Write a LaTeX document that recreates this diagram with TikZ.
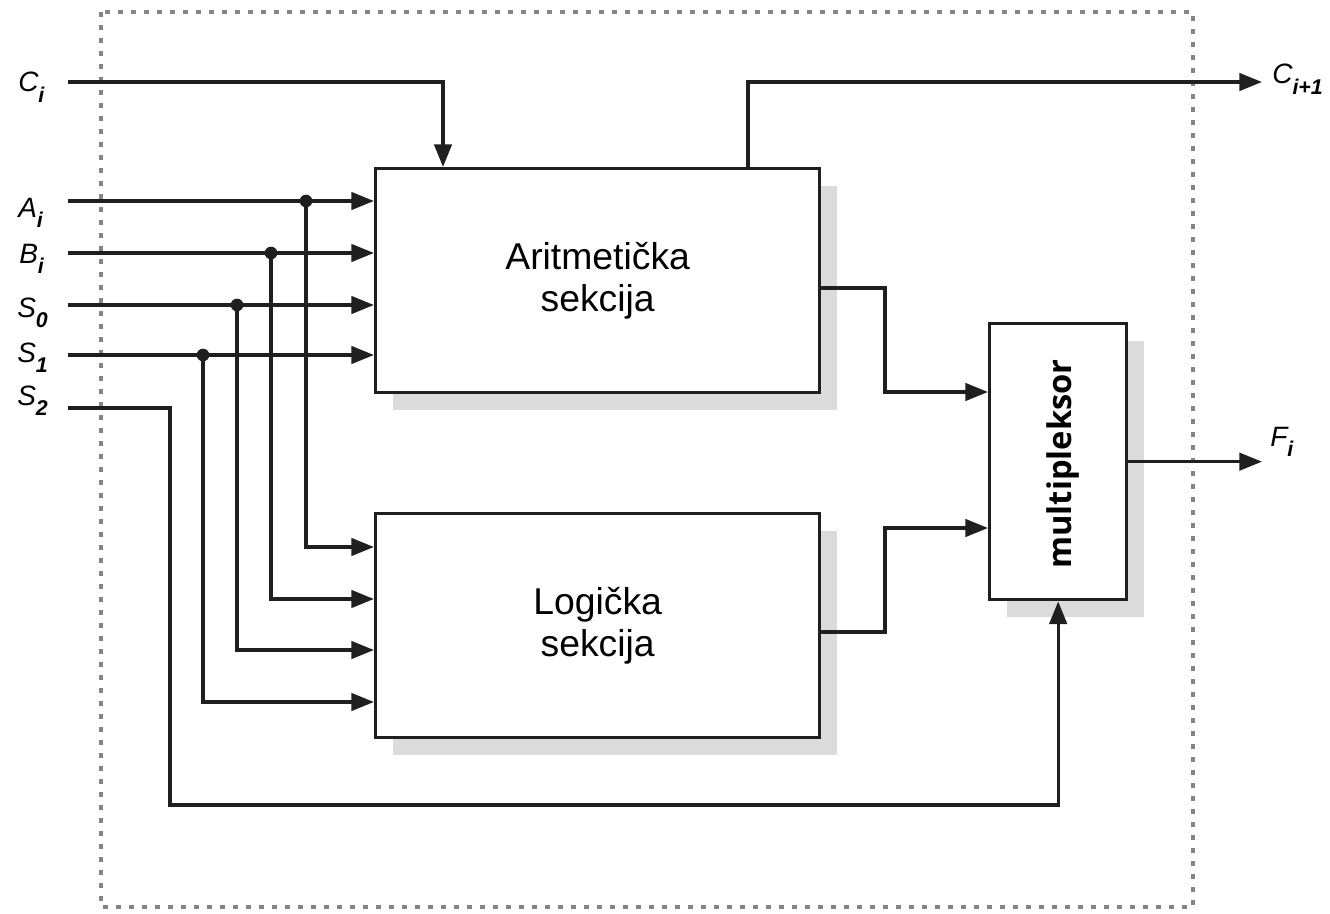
\documentclass[tikz,border=0pt]{standalone}
\usepackage{fontspec}
\setmainfont{Liberation Sans}
\newfontfamily\muxfont{Open Sans}
\usetikzlibrary{arrows.meta,shadows}

% subscript of a pin label
\newcommand\pinsub[1]{\raisebox{-0.36em}{\fontsize{16}{16}\selectfont\bfseries\itshape #1}}

\begin{document}
\begin{tikzpicture}[x=0.75pt,y=-0.75pt,
  wire/.style={line width=2.5pt, draw=black!88},
  sig/.style={wire, -{Triangle[length=17pt,width=13pt]}},
  block/.style={draw=black!88, line width=2.5pt, fill=white, inner sep=0pt,
    anchor=north west, align=center,
    font=\fontsize{28}{32}\selectfont,
    drop shadow={shadow xshift=12.75pt, shadow yshift=-12.75pt,
      opacity=1, fill=black!14}},
  joint/.style={circle, fill=black!88, inner sep=0pt, minimum size=9.5pt},
  pin/.style={anchor=base west, inner sep=0pt,
    font=\fontsize{21}{21}\selectfont\itshape},
  frame/.style={draw=black!48, line width=3.6pt, dash pattern=on 3.6pt off 6.15pt}
]
\useasboundingbox (0,0) rectangle (1330,913);

% dotted outline of the cell
\draw[frame] (101,12) rectangle (1193,907);

% blocks
\node[block, minimum width=333pt, minimum height=168pt] (arith) at (374,167)
  {Aritmetička\\sekcija};
\node[block, minimum width=333pt, minimum height=168pt] (logic) at (374,512)
  {Logička\\sekcija};
\node[block, minimum width=102.75pt, minimum height=207pt] (mux) at (988,322) {};
\node[rotate=90, inner sep=0pt, font=\muxfont\bfseries\fontsize{24.5}{24.5}\selectfont]
  (muxlbl) at (1063,464) {multipleksor};

% pin labels
\node[pin] (lci) at (18,92)  {C\pinsub{i}};
\node[pin] (lai) at (18,217) {A\pinsub{i}};
\node[pin] (lbi) at (19,263) {B\pinsub{i}};
\node[pin] (ls0) at (17,317) {S\pinsub{0}};
\node[pin] (ls1) at (17,362) {S\pinsub{1}};
\node[pin] (ls2) at (17,405) {S\pinsub{2}};
\node[pin] (lco) at (1272,84) {C\pinsub{i+1}};
\node[pin] (lfi) at (1270,446) {F\pinsub{i}};

% wire end points
\coordinate (ci) at (68,82);
\coordinate (ai) at (68,201);
\coordinate (bi) at (68,253);
\coordinate (s0) at (68,305);
\coordinate (s1) at (68,355);
\coordinate (s2) at (68,408);
\coordinate (cidrop) at (443,167);
\coordinate (coup) at (748,167);
\coordinate (co) at (1262,82);
\coordinate (fo) at (1262,460);

% branch points
\node[joint] (ja) at (306,201) {};
\node[joint] (jb) at (271,253) {};
\node[joint] (j0) at (237,305) {};
\node[joint] (j1) at (203,355) {};

% inputs of the logic section
\coordinate (la) at (374,547);
\coordinate (lb) at (374,599);
\coordinate (l0) at (374,650);
\coordinate (l1) at (374,702);

% routing points
\coordinate (s2a) at (170,408);
\coordinate (s2b) at (170,805);
\coordinate (ao) at (818,288);
\coordinate (aturn) at (885,392);
\coordinate (ma) at (988,392);
\coordinate (lo) at (818,632);
\coordinate (lturn) at (885,528);
\coordinate (ml) at (988,528);

% carry
\draw[sig] (ci) -| (cidrop);
\draw[sig] (coup) |- (co);

% operands and selects into the arithmetic section
\draw[sig] (ai) -- (ai -| arith.west);
\draw[sig] (bi) -- (bi -| arith.west);
\draw[sig] (s0) -- (s0 -| arith.west);
\draw[sig] (s1) -- (s1 -| arith.west);

% branches into the logic section
\draw[sig] (ja.center) |- (la);
\draw[sig] (jb.center) |- (lb);
\draw[sig] (j0.center) |- (l0);
\draw[sig] (j1.center) |- (l1);

% S2 selects the multiplexer output
\draw[sig] (s2) -- (s2a) -- (s2b) -| (mux.south);

% section outputs into the multiplexer
\draw[sig] (ao) -| (aturn) -- (ma);
\draw[sig] (lo) -| (lturn) -- (ml);

% result
\draw[sig] (mux.east) -- (mux.east -| fo);
\end{tikzpicture}
\end{document}
